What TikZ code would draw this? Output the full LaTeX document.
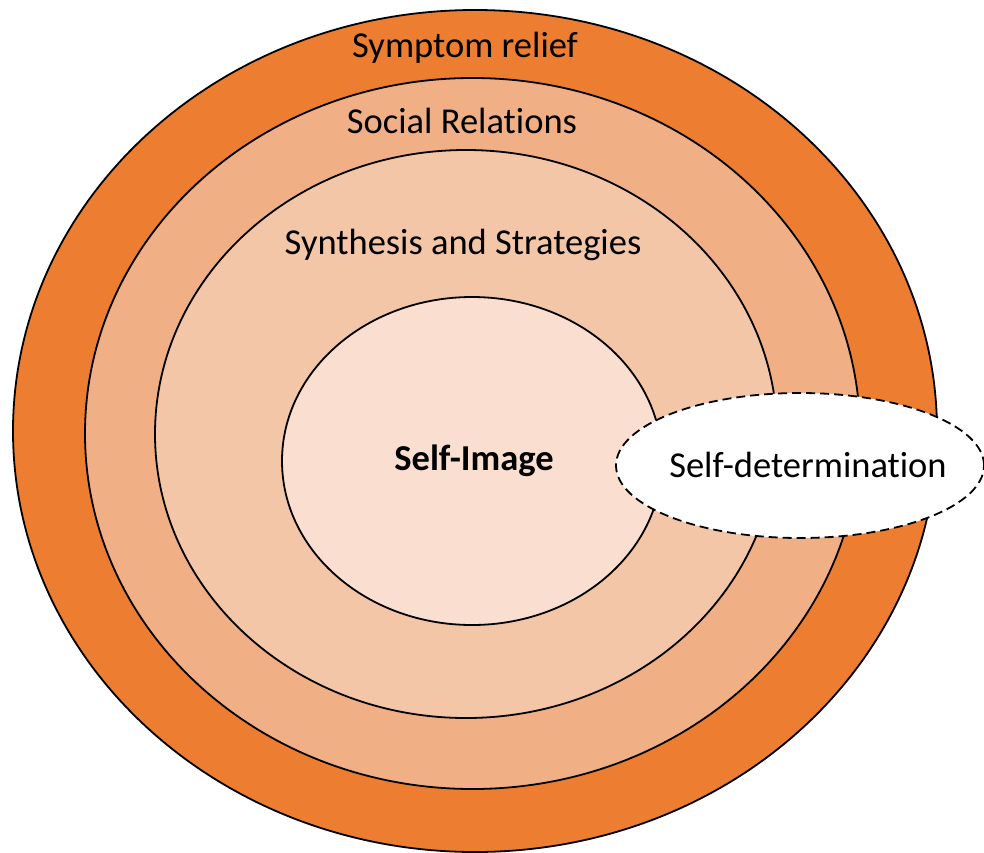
\documentclass[tikz,border=0pt]{standalone}
\usepackage{fontspec}
\setmainfont[Ligatures={NoCommon},RawFeature={-liga;-calt;-dlig}]{Carlito}
\usetikzlibrary{shapes.geometric}
\definecolor{ringA}{HTML}{ED7D31}
\definecolor{ringB}{HTML}{F0AF84}
\definecolor{ringC}{HTML}{F4C6A8}
\definecolor{ringD}{HTML}{FADFD0}
\newcommand\tiNoLig{t\kern0pt i}
\begin{document}
\begin{tikzpicture}[x=1pt,y=-1pt,
  ring/.style={ellipse,draw=black,line width=1.8pt,inner sep=0pt},
  lbl/.style={font=\fontsize{36.5}{42}\selectfont,inner sep=0pt}]
\useasboundingbox (0,0) rectangle (984,852);
\node[ring,fill=ringA,minimum width=924pt,minimum height=842pt] (r1) at (475,431) {};
\node[ring,fill=ringB,minimum width=775pt,minimum height=711pt] (r2) at (472.5,433.5) {};
\node[ring,fill=ringC,minimum width=622pt,minimum height=568pt] (r3) at (466,434) {};
\node[ring,fill=ringD,minimum width=380pt,minimum height=328pt] (r4) at (472,461) {};
\node[ring,fill=white,dash pattern=on 9pt off 5pt,minimum width=368pt,minimum height=145pt] (sd) at (800,465.5) {};
\node[lbl] (t1) at (465,48) {Symptom relief};
\node[lbl] (t2) at (462,121) {Social Rela\tiNoLig ons};
\node[lbl] (t3) at (463,245) {Synthesis and Strategies};
\node[lbl,font=\fontsize{36.5}{42}\selectfont\bfseries] (t4) at (474,461) {Self-Image};
\node[lbl] (t5) at (808,465) {Self-determina\tiNoLig on};
\end{tikzpicture}
\end{document}
